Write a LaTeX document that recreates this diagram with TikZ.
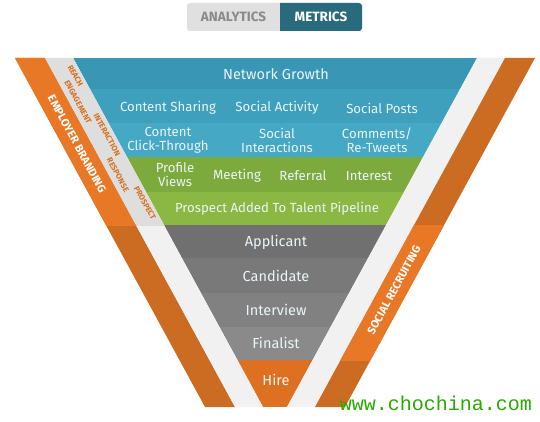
\documentclass[tikz,border=0pt]{standalone}
\usepackage{fontspec}
\setmainfont{Fira Sans}
\newfontfamily\wmfont{Liberation Mono}

\definecolor{brightOrange}{RGB}{232,119,38}
\definecolor{darkOrange}{RGB}{204,107,34}
\definecolor{hireOrange}{RGB}{222,112,34}
\definecolor{bandGrey}{RGB}{222,222,222}
\definecolor{paleGrey}{RGB}{241,241,241}
\definecolor{blueA}{RGB}{57,150,180}
\definecolor{blueB}{RGB}{62,160,189}
\definecolor{blueC}{RGB}{69,168,196}
\definecolor{greenA}{RGB}{124,170,60}
\definecolor{greenB}{RGB}{138,184,66}
\definecolor{grayA}{RGB}{112,112,112}
\definecolor{grayB}{RGB}{121,121,121}
\definecolor{grayC}{RGB}{129,129,129}
\definecolor{grayD}{RGB}{138,138,138}
\definecolor{tabGrey}{RGB}{224,224,224}
\definecolor{tabTeal}{RGB}{42,106,125}
\definecolor{tabText}{RGB}{138,138,138}
\definecolor{rowText}{RGB}{234,245,248}
\definecolor{labelOrange}{RGB}{214,112,30}
\definecolor{wmGreen}{RGB}{40,170,0}

\begin{document}
\begin{tikzpicture}[
  x=1pt, y=-1pt,
  stage/.style={
    text=rowText,
    font=\fontsize{14.5}{15}\selectfont,
    align=center,
    inner sep=0pt,
  },
  cell/.style={
    text=rowText,
    font=\fontsize{13.2}{14}\selectfont,
    align=center,
    inner sep=0pt,
  },
  phase/.style={
    text=labelOrange,
    font=\fontsize{7.9}{8}\selectfont\bfseries,
    rotate=-61.4,
    inner sep=0pt,
  },
  side/.style={
    text=white,
    font=\fontsize{11.2}{12}\selectfont\bfseries,
    inner sep=0pt,
  },
  tab/.style={
    font=\fontsize{13.5}{14}\selectfont\bfseries,
    inner sep=0pt,
  },
]
  \useasboundingbox (0,0) rectangle (540,422);

  % switch buttons
  \fill[tabGrey, rounded corners=3pt] (187,3) rectangle (362,31);
  \fill[tabTeal] (280,3) [rounded corners=3pt] -- (362,3) -- (362,31) [sharp corners] -- (280,31) -- cycle;
  \node[tab, text=tabText] (analytics) at (233.5,17) {ANALYTICS};
  \node[tab, text=white] (metrics) at (321,17) {METRICS};

  % funnel rows
  \begin{scope}
    \clip (73,58) -- (477,58) -- (287,407) -- (263,407) -- cycle;
    \fill[blueA] (0,58) rectangle (540,89);
    \fill[blueB] (0,89) rectangle (540,123);
    \fill[blueC] (0,123) rectangle (540,157);
    \fill[greenA] (0,157) rectangle (540,192);
    \fill[greenB] (0,192) rectangle (540,225);
    \fill[grayA] (0,225) rectangle (540,258);
    \fill[grayB] (0,258) rectangle (540,293);
    \fill[grayC] (0,293) rectangle (540,327);
    \fill[grayD] (0,327) rectangle (540,360);
    \fill[hireOrange] (0,360) rectangle (540,407);
  \end{scope}

  % side bands
  \fill[darkOrange] (15,58) -- (45,58) -- (235,407) -- (205,407) -- cycle;
  \fill[paleGrey] (45,58) -- (73,58) -- (263,407) -- (235,407) -- cycle;
  \fill[paleGrey] (477,58) -- (505,58) -- (315,407) -- (287,407) -- cycle;
  \fill[darkOrange] (505,58) -- (535,58) -- (345,407) -- (315,407) -- cycle;
  \begin{scope}
    \clip (0,58) rectangle (540,225);
    \fill[brightOrange] (15,58) -- (45,58) -- (235,407) -- (205,407) -- cycle;
    \fill[bandGrey] (45,58) -- (73,58) -- (263,407) -- (235,407) -- cycle;
  \end{scope}
  \begin{scope}
    \clip (0,225) rectangle (540,360);
    \fill[brightOrange] (505,58) -- (535,58) -- (345,407) -- (315,407) -- cycle;
  \end{scope}

  \node[stage] (growth) at (276,74) {Network Growth};

  \node[cell] (sharing) at (168,108) {Content Sharing};
  \node[cell] (activity) at (277,108) {Social Activity};
  \node[cell] (posts) at (382,108) {Social Posts};

  \node[cell] (click) at (168,140) {Content\\Click-Through};
  \node[cell] (interact) at (277,140) {Social\\Interactions};
  \node[cell] (comments) at (377,140) {Comments/\\Re-Tweets};

  \node[cell] (views) at (175,175) {Profile\\Views};
  \node[cell] (meeting) at (237,176) {Meeting};
  \node[cell] (referral) at (303,176) {Referral};
  \node[cell] (interest) at (369,176) {Interest};

  \node[cell] (pipeline) at (277,209) {Prospect Added To Talent Pipeline};

  \node[stage] (applicant) at (276,242) {Applicant};
  \node[stage] (candidate) at (276,276) {Candidate};
  \node[stage] (interview) at (276,310) {Interview};
  \node[stage] (finalist) at (276,343) {Finalist};
  \node[stage] (hire) at (276,380) {Hire};

  \node[phase] (reach) at (75.5,76) {REACH};
  \node[phase] (engage) at (78,102) {ENGAGEMENT};
  \node[phase] (interaction) at (107,135) {INTERACTION};
  \node[phase] (response) at (118,175) {RESPONSE};
  \node[phase] (prospect) at (145,203) {PROSPECT};

  \node[side, rotate=-61.4] (branding) at (77,144) {EMPLOYER BRANDING};
  \node[side, rotate=61.4] (recruiting) at (394,290) {SOCIAL RECRUITING};

  \node[font=\wmfont\fontsize{20}{20}\selectfont, text=wmGreen, inner sep=0pt] (mark) at (436,403) {www.chochina.com};

\end{tikzpicture}
\end{document}
